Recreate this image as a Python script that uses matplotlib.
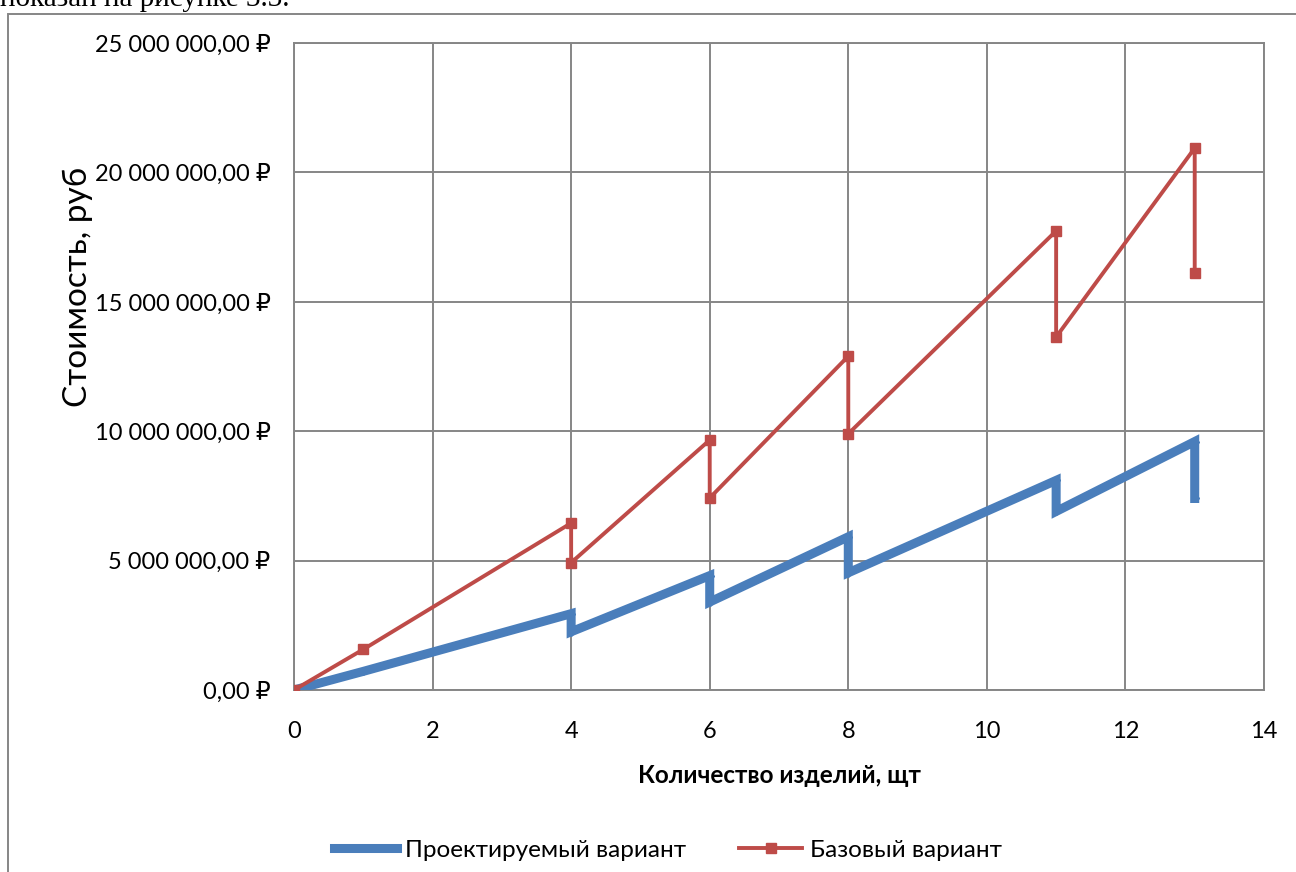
import matplotlib
matplotlib.use("Agg")
import matplotlib.pyplot as plt
from matplotlib.patches import Rectangle
from matplotlib.ticker import FuncFormatter

plt.rcParams['font.family'] = ['Lato', 'DejaVu Sans']

# data (rubles)
qty = [0, 1, 4, 4, 6, 6, 8, 8, 11, 11, 13, 13]
proj_cost = [0, 0.72e6, 2.95e6, 2.25e6, 4.42e6, 3.40e6, 5.92e6, 4.53e6,
             8.10e6, 6.90e6, 9.60e6, 7.40e6]
base_cost = [0, 1.57e6, 6.45e6, 4.92e6, 9.66e6, 7.42e6, 12.90e6, 9.90e6,
             17.74e6, 13.64e6, 20.94e6, 16.10e6]
series_names = ["Проектируемый вариант", "Базовый вариант"]

blue = "#4a7ebb"
red = "#be4b48"
grid_c = "#868686"


def rub(v, pos):
    s = "{:,.2f}".format(v).replace(",", " ").replace(".", ",")
    return s + " ₽"


W, H = 1296, 872
fig = plt.figure(figsize=(W / 100, H / 100), dpi=100)
ax = fig.add_axes([294 / W, 1 - 690 / H, (1264 - 294) / W, (690 - 43) / H])

ax.plot(qty, proj_cost, color=blue, lw=6.5, marker="D", ms=4,
        solid_joinstyle="miter", label=series_names[0], zorder=3)
ax.plot(qty, base_cost, color=red, lw=2.8, marker="s", ms=7,
        label=series_names[1], zorder=4)

ax.set_xlim(0, 14)
ax.set_ylim(0, 25e6)
ax.set_xticks(range(0, 15, 2))
ax.set_yticks([0, 5e6, 10e6, 15e6, 20e6, 25e6])
ax.yaxis.set_major_formatter(FuncFormatter(rub))
ax.grid(True, color=grid_c, lw=1.4)
ax.set_axisbelow(True)
for sp in ax.spines.values():
    sp.set_color(grid_c)
    sp.set_linewidth(1.4)
ax.tick_params(length=0, labelsize=17, colors="black")
ax.tick_params(axis="x", pad=22)
ax.tick_params(axis="y", pad=17)

ax.set_xlabel("Количество изделий, щт", fontsize=17.5, fontweight="bold", labelpad=16)
ax.set_ylabel("Стоимость, руб", fontsize=24)
# Excel put the axis title above centre, tight against the tick labels
ax.yaxis.set_label_coords((93 - 294) / 970, (690 - 287) / 647)

fig.legend(loc="center", bbox_to_anchor=(668 / W, 1 - 850 / H), ncol=2,
           frameon=False, fontsize=17.5, handlelength=2.6, columnspacing=2.2,
           handletextpad=0.3)

# chart frame and cut-off caption text above it
fig.patches.append(Rectangle((8 / W, -0.01), 1.0, 1 - 14 / H + 0.01,
                             transform=fig.transFigure, fill=False,
                             ec=grid_c, lw=1.4))
fig.text(0.0, 1 - 6 / H, "показан на рисунке 3.3.", family="Liberation Serif",
         fontsize=21, va="baseline", ha="left")

fig.savefig("out.png", dpi=100)
